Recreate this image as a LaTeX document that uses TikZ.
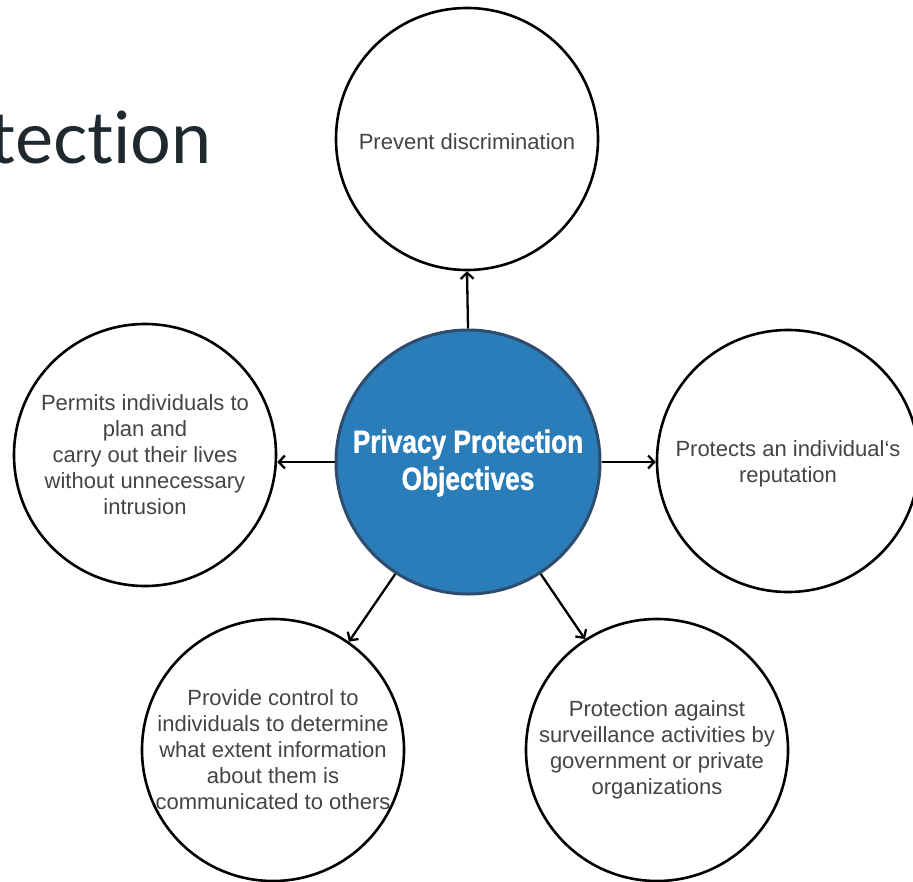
\documentclass[tikz,border=0pt]{standalone}
\usepackage{fontspec}
\setmainfont{Liberation Sans}
\newfontfamily\condfont{Liberation Sans}[FakeStretch=0.82, BoldFeatures={FakeBold=1.2}]
\newfontfamily\titlefont{Lato}[Ligatures=NoCommon]
\usetikzlibrary{arrows.meta}
\definecolor{hub}{HTML}{2A7DB9}
\definecolor{hubline}{HTML}{2E4D6E}
\definecolor{txt}{HTML}{444444}
\definecolor{ttl}{HTML}{1F292D}
\begin{document}
\begin{tikzpicture}[x=1pt,y=-1pt,
  ring/.style={circle, draw=black, line width=2.6pt, minimum size=262pt, inner sep=0pt},
  hubnode/.style={circle, draw=hubline, fill=hub, line width=3pt, minimum size=264pt, inner sep=0pt},
  lbl/.style={text=txt, font=\fontsize{22}{26}\selectfont, align=center, inner sep=0pt},
  link/.style={line width=2.3pt, -{Straight Barb[length=6pt, width=13pt]}}]
\path[use as bounding box] (0,0) rectangle (913,881);
\clip (0,0) rectangle (913,881);
\fill[white] (0,0) rectangle (913,881);

\node[font=\titlefont\fontsize{72}{80}\selectfont, text=ttl, anchor=base east, inner sep=0pt] (title) at (212,163) {tection};

\node[hubnode] (hub) at (468,462) {};
\node[font=\condfont\bfseries\fontsize{32}{37}\selectfont, text=white, align=center] (hubtext) at (468,463) {Privacy Protection\\Objectives};

\node[ring] (top) at (467,139) {};
\node[ring] (left) at (145,455) {};
\node[ring] (right) at (788,461) {};
\node[ring] (bl) at (273,750) {};
\node[ring] (br) at (657,750) {};

\node[lbl] (toptext) at (467,142) {Prevent discrimination};
\node[lbl] (lefttext) at (left.center) {Permits individuals to\\plan and\\carry out their lives\\without unnecessary\\intrusion};
\node[lbl] (righttext) at (788,464) {Protects an individual‘s\\reputation};
\node[lbl] (bltext) at (bl.center) {Provide control to\\individuals to determine\\what extent information\\about them is\\communicated to others};
\node[lbl] (brtext) at (br.center) {Protection against\\surveillance activities by\\government or private\\organizations};

\draw[link] (hub.north) -- (top.south);
\draw[link] (hub.west) -- (hub.west -| left.east);
\draw[link] (hub.east) -- (hub.east -| right.west);
\draw[link] (hub.237) -- (bl.55);
\draw[link] (hub.303) -- (br.123);
\end{tikzpicture}
\end{document}
